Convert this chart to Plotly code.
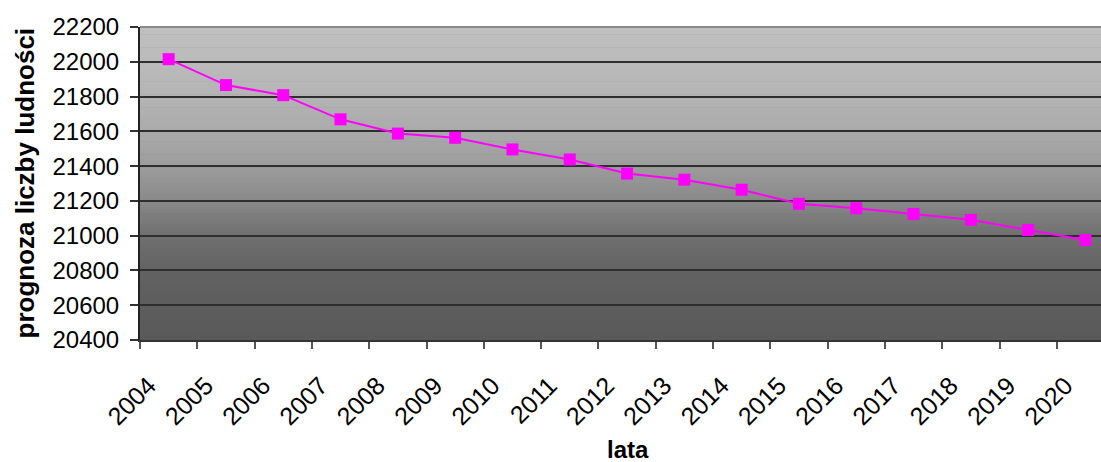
import plotly.graph_objects as go

years = [str(y) for y in range(2004, 2021)]
population = [22015, 21866, 21808, 21669, 21587, 21563, 21496, 21438, 21357,
              21322, 21264, 21183, 21158, 21125, 21091, 21033, 20975]
y_ticks = list(range(20400, 22201, 200))

W, H = 1101, 462
L, R, T, B = 140, 0, 27, 122
pw = W - L - R
cat_w = 57.3
x_hi = pw / cat_w - 0.5

FONT = "Liberation Sans, Arial, sans-serif"

# gradient keyframes (fraction from top, gray level)
grad = [(0.0, 192), (0.111, 187), (0.222, 180), (0.333, 170), (0.444, 157),
        (0.556, 137), (0.667, 112), (0.778, 99), (0.889, 93), (1.0, 90)]

def gray_at(f):
    for (f0, g0), (f1, g1) in zip(grad[:-1], grad[1:]):
        if f0 <= f <= f1:
            return g0 + (g1 - g0) * (f - f0) / (f1 - f0)
    return grad[-1][1]

shapes = []
n = 120
for i in range(n):
    f0 = i / n
    f1 = (i + 1) / n
    g = int(round(gray_at((f0 + f1) / 2)))
    shapes.append(dict(type="rect", xref="x domain", yref="y domain",
                       x0=0, x1=1, y0=1 - f1, y1=1 - f0 + 0.002,
                       fillcolor=f"rgb({g},{g},{g})", line=dict(width=0),
                       layer="below"))
# top border
shapes.append(dict(type="line", xref="x domain", yref="y domain",
                   x0=0, x1=1, y0=1, y1=1,
                   line=dict(color="#8a8a8a", width=2), layer="below"))

fig = go.Figure()
fig.add_trace(go.Scatter(
    x=years, y=population, mode="lines+markers",
    line=dict(color="#ff00ff", width=2),
    marker=dict(symbol="square", size=12, color="#ff00ff"),
    hoverinfo="x+y", showlegend=False,
))

fig.update_layout(
    width=W, height=H,
    margin=dict(l=L, r=R, t=T, b=B, autoexpand=False),
    paper_bgcolor="white", plot_bgcolor="#5a5a5a",
    font=dict(family=FONT, size=24, color="black"),
    shapes=shapes,
    xaxis=dict(
        type="category", range=[-0.5, x_hi],
        tickson="boundaries", ticks="outside", ticklen=7, tickwidth=1.5,
        tickcolor="#555555", tickangle=-45,
        showline=True, linecolor="#333333", linewidth=2,
        showgrid=False, zeroline=False,
        tickfont=dict(family=FONT, size=25, color="black"),
        ticklabelstandoff=19, ticklabelshift=-20,
    ),
    yaxis=dict(
        range=[20400, 22200], tickvals=y_ticks,
        ticktext=[str(v) for v in y_ticks],
        ticks="outside", ticklen=8, tickwidth=1.5, tickcolor="#333333",
        showline=True, linecolor="#222222", linewidth=2,
        showgrid=True, gridcolor="#2e2e2e", gridwidth=1.5,
        zeroline=False,
        tickfont=dict(family=FONT, size=24, color="black"),
        ticklabelstandoff=6,
    ),
    annotations=[
        dict(text="<b>prognoza liczby ludności</b>", xref="paper", yref="paper",
             x=(24 - L) / pw, y=0.5, xanchor="center", yanchor="middle",
             textangle=-90, showarrow=False,
             font=dict(family=FONT, size=26, color="black")),
        dict(text="<b>lata</b>", xref="paper", yref="paper",
             x=(628 - L) / pw, y=-(450 - (H - B)) / (H - T - B),
             xanchor="center", yanchor="middle", showarrow=False,
             font=dict(family=FONT, size=24, color="black")),
    ],
)

fig.write_html(
    "out.html",
    config={"displayModeBar": False},
    post_script="document.body.style.margin='0';document.body.style.overflow='hidden';",
)
